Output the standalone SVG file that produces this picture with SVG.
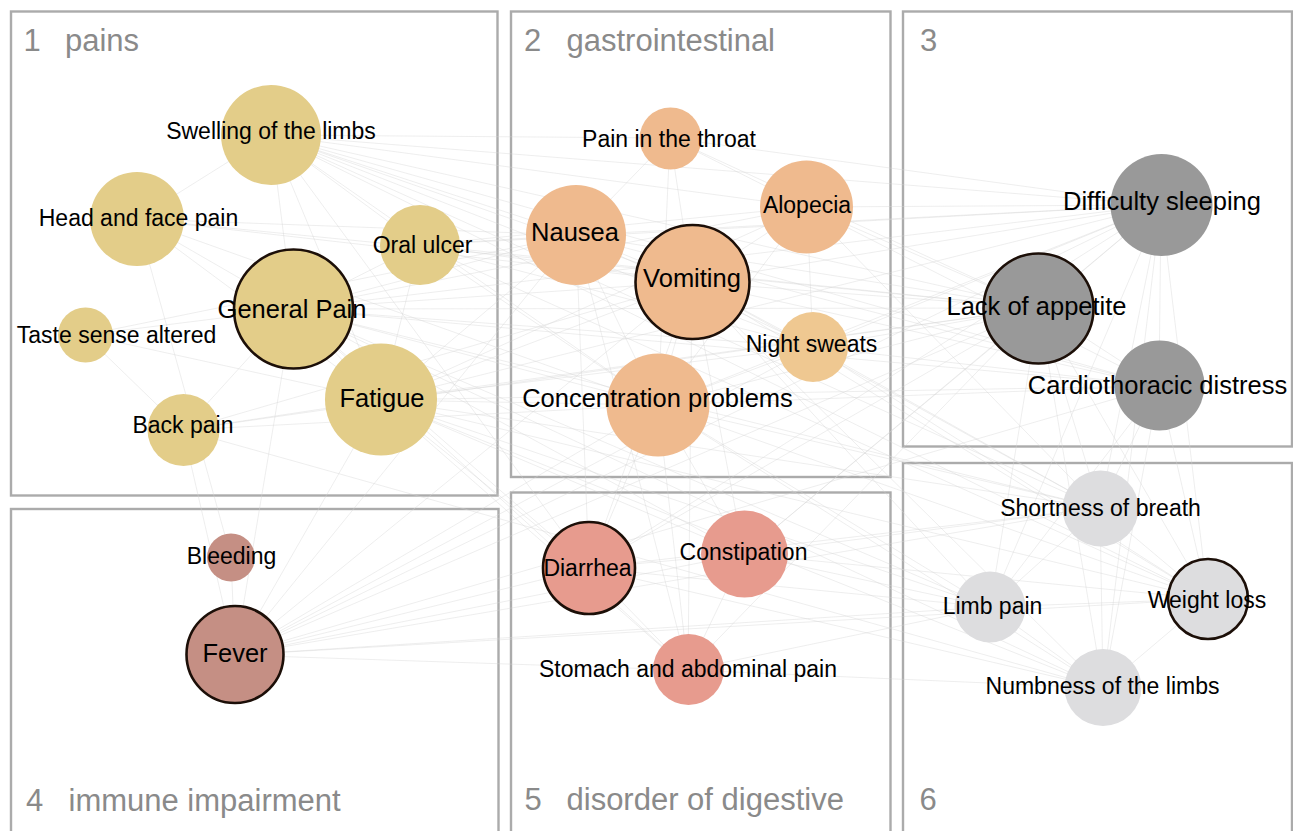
<svg xmlns="http://www.w3.org/2000/svg" width="1293" height="831" viewBox="0 0 1293 831">
<style>
.panel{fill:none;stroke:#ababab;stroke-width:2.4}
.plab{font-family:"Liberation Sans",Arial,sans-serif;font-size:31px;fill:#8a8a8a}
.e{stroke:#d6d6d6;stroke-width:0.9;stroke-opacity:0.45}
.lab{font-family:"Liberation Sans",Arial,sans-serif;font-size:23px;fill:#000;text-anchor:middle}
.big{font-size:25.5px}
.hub{stroke:#1c0f08;stroke-width:2.6}
.c1{fill:#E3CD89}.c2{fill:#EFBA8E}.c2b{fill:#EFC891}.c3{fill:#999999}.c4{fill:#C58F84}.c5{fill:#E79B8E}.c6{fill:#DDDDDF}
</style>
<rect width="1293" height="831" fill="#fff"/>
<g id="panels">
<rect class="panel" x="11" y="11.5" width="486.5" height="484"/>
<rect class="panel" x="511" y="11.5" width="379.5" height="465.5"/>
<rect class="panel" x="903" y="11.5" width="389" height="435"/>
<rect class="panel" x="11" y="509" width="487.5" height="340"/>
<rect class="panel" x="511" y="492.5" width="379.5" height="360"/>
<rect class="panel" x="903" y="463" width="389" height="380"/>
<text class="plab" x="23.5" y="50.5">1<tspan x="65">pains</tspan></text>
<text class="plab" x="524" y="50.5">2<tspan x="566.5">gastrointestinal</tspan></text>
<text class="plab" x="920" y="50.5">3</text>
<text class="plab" x="26" y="811">4<tspan x="68.5">immune impairment</tspan></text>
<text class="plab" x="524.5" y="810">5<tspan x="566.5">disorder of digestive</tspan></text>
<text class="plab" x="919.5" y="810">6</text>
</g>
<g id="connectors">
<line class="e" x1="271" y1="135" x2="137" y2="219"/><line class="e" x1="271" y1="135" x2="293" y2="309"/><line class="e" x1="271" y1="135" x2="420" y2="245"/><line class="e" x1="271" y1="135" x2="381" y2="400"/><line class="e" x1="271" y1="135" x2="670" y2="138"/><line class="e" x1="271" y1="135" x2="576" y2="235"/><line class="e" x1="271" y1="135" x2="692" y2="282"/><line class="e" x1="271" y1="135" x2="807" y2="207"/><line class="e" x1="271" y1="135" x2="813" y2="347"/><line class="e" x1="271" y1="135" x2="658" y2="405"/><line class="e" x1="271" y1="135" x2="1161" y2="205"/><line class="e" x1="271" y1="135" x2="1039" y2="308"/><line class="e" x1="271" y1="135" x2="1159" y2="386"/><line class="e" x1="271" y1="135" x2="1100" y2="508"/><line class="e" x1="271" y1="135" x2="1208" y2="599"/><line class="e" x1="271" y1="135" x2="589" y2="568"/>
<line class="e" x1="137" y1="219" x2="293" y2="309"/><line class="e" x1="137" y1="219" x2="231" y2="557"/><line class="e" x1="137" y1="219" x2="692" y2="282"/><line class="e" x1="137" y1="219" x2="576" y2="235"/><line class="e" x1="137" y1="219" x2="381" y2="400"/><line class="e" x1="137" y1="219" x2="1039" y2="308"/><line class="e" x1="137" y1="219" x2="658" y2="405"/>
<line class="e" x1="420" y1="245" x2="293" y2="309"/><line class="e" x1="420" y1="245" x2="381" y2="400"/><line class="e" x1="420" y1="245" x2="576" y2="235"/><line class="e" x1="420" y1="245" x2="692" y2="282"/><line class="e" x1="420" y1="245" x2="807" y2="207"/><line class="e" x1="420" y1="245" x2="1039" y2="308"/><line class="e" x1="420" y1="245" x2="1161" y2="205"/><line class="e" x1="420" y1="245" x2="658" y2="405"/><line class="e" x1="420" y1="245" x2="813" y2="347"/><line class="e" x1="420" y1="245" x2="1208" y2="599"/>
<line class="e" x1="293" y1="309" x2="85" y2="335"/><line class="e" x1="293" y1="309" x2="381" y2="400"/><line class="e" x1="293" y1="309" x2="183" y2="430"/><line class="e" x1="293" y1="309" x2="576" y2="235"/><line class="e" x1="293" y1="309" x2="692" y2="282"/><line class="e" x1="293" y1="309" x2="807" y2="207"/><line class="e" x1="293" y1="309" x2="658" y2="405"/><line class="e" x1="293" y1="309" x2="1039" y2="308"/><line class="e" x1="293" y1="309" x2="1161" y2="205"/><line class="e" x1="293" y1="309" x2="1159" y2="386"/><line class="e" x1="293" y1="309" x2="235" y2="655"/><line class="e" x1="293" y1="309" x2="589" y2="568"/><line class="e" x1="293" y1="309" x2="744" y2="554"/><line class="e" x1="293" y1="309" x2="688" y2="670"/><line class="e" x1="293" y1="309" x2="1100" y2="508"/><line class="e" x1="293" y1="309" x2="990" y2="607"/><line class="e" x1="293" y1="309" x2="1103" y2="688"/><line class="e" x1="293" y1="309" x2="813" y2="347"/>
<line class="e" x1="85" y1="335" x2="381" y2="400"/><line class="e" x1="85" y1="335" x2="183" y2="430"/><line class="e" x1="85" y1="335" x2="576" y2="235"/>
<line class="e" x1="381" y1="400" x2="183" y2="430"/><line class="e" x1="381" y1="400" x2="692" y2="282"/><line class="e" x1="381" y1="400" x2="576" y2="235"/><line class="e" x1="381" y1="400" x2="658" y2="405"/><line class="e" x1="381" y1="400" x2="813" y2="347"/><line class="e" x1="381" y1="400" x2="1039" y2="308"/><line class="e" x1="381" y1="400" x2="1161" y2="205"/><line class="e" x1="381" y1="400" x2="1159" y2="386"/><line class="e" x1="381" y1="400" x2="589" y2="568"/><line class="e" x1="381" y1="400" x2="744" y2="554"/><line class="e" x1="381" y1="400" x2="688" y2="670"/><line class="e" x1="381" y1="400" x2="1100" y2="508"/><line class="e" x1="381" y1="400" x2="1208" y2="599"/><line class="e" x1="381" y1="400" x2="990" y2="607"/><line class="e" x1="381" y1="400" x2="1103" y2="688"/><line class="e" x1="381" y1="400" x2="235" y2="655"/><line class="e" x1="381" y1="400" x2="807" y2="207"/>
<line class="e" x1="183" y1="430" x2="235" y2="655"/><line class="e" x1="183" y1="430" x2="1039" y2="308"/><line class="e" x1="183" y1="430" x2="658" y2="405"/><line class="e" x1="183" y1="430" x2="1103" y2="688"/><line class="e" x1="183" y1="430" x2="692" y2="282"/>
<line class="e" x1="670" y1="138" x2="576" y2="235"/><line class="e" x1="670" y1="138" x2="692" y2="282"/><line class="e" x1="670" y1="138" x2="807" y2="207"/><line class="e" x1="670" y1="138" x2="1039" y2="308"/><line class="e" x1="670" y1="138" x2="1161" y2="205"/><line class="e" x1="670" y1="138" x2="658" y2="405"/>
<line class="e" x1="807" y1="207" x2="692" y2="282"/><line class="e" x1="807" y1="207" x2="813" y2="347"/><line class="e" x1="807" y1="207" x2="1161" y2="205"/><line class="e" x1="807" y1="207" x2="1039" y2="308"/><line class="e" x1="807" y1="207" x2="1159" y2="386"/><line class="e" x1="807" y1="207" x2="658" y2="405"/><line class="e" x1="807" y1="207" x2="1100" y2="508"/>
<line class="e" x1="576" y1="235" x2="692" y2="282"/><line class="e" x1="576" y1="235" x2="658" y2="405"/><line class="e" x1="576" y1="235" x2="1039" y2="308"/><line class="e" x1="576" y1="235" x2="1161" y2="205"/><line class="e" x1="576" y1="235" x2="589" y2="568"/><line class="e" x1="576" y1="235" x2="688" y2="670"/><line class="e" x1="576" y1="235" x2="813" y2="347"/><line class="e" x1="576" y1="235" x2="1159" y2="386"/>
<line class="e" x1="692" y1="282" x2="658" y2="405"/><line class="e" x1="692" y1="282" x2="813" y2="347"/><line class="e" x1="692" y1="282" x2="1039" y2="308"/><line class="e" x1="692" y1="282" x2="1161" y2="205"/><line class="e" x1="692" y1="282" x2="1159" y2="386"/><line class="e" x1="692" y1="282" x2="589" y2="568"/><line class="e" x1="692" y1="282" x2="744" y2="554"/><line class="e" x1="692" y1="282" x2="688" y2="670"/><line class="e" x1="692" y1="282" x2="1100" y2="508"/><line class="e" x1="692" y1="282" x2="1208" y2="599"/><line class="e" x1="692" y1="282" x2="1103" y2="688"/><line class="e" x1="692" y1="282" x2="990" y2="607"/>
<line class="e" x1="813" y1="347" x2="1039" y2="308"/><line class="e" x1="813" y1="347" x2="1161" y2="205"/><line class="e" x1="813" y1="347" x2="1159" y2="386"/><line class="e" x1="813" y1="347" x2="658" y2="405"/><line class="e" x1="813" y1="347" x2="1100" y2="508"/><line class="e" x1="813" y1="347" x2="1208" y2="599"/>
<line class="e" x1="658" y1="405" x2="1039" y2="308"/><line class="e" x1="658" y1="405" x2="1161" y2="205"/><line class="e" x1="658" y1="405" x2="1159" y2="386"/><line class="e" x1="658" y1="405" x2="589" y2="568"/><line class="e" x1="658" y1="405" x2="744" y2="554"/><line class="e" x1="658" y1="405" x2="688" y2="670"/><line class="e" x1="658" y1="405" x2="1100" y2="508"/><line class="e" x1="658" y1="405" x2="990" y2="607"/><line class="e" x1="658" y1="405" x2="1103" y2="688"/><line class="e" x1="658" y1="405" x2="1208" y2="599"/>
<line class="e" x1="1161" y1="205" x2="1039" y2="308"/><line class="e" x1="1161" y1="205" x2="1159" y2="386"/><line class="e" x1="1161" y1="205" x2="1100" y2="508"/><line class="e" x1="1161" y1="205" x2="1208" y2="599"/><line class="e" x1="1161" y1="205" x2="1103" y2="688"/><line class="e" x1="1161" y1="205" x2="990" y2="607"/><line class="e" x1="1161" y1="205" x2="589" y2="568"/><line class="e" x1="1161" y1="205" x2="744" y2="554"/>
<line class="e" x1="1039" y1="308" x2="1159" y2="386"/><line class="e" x1="1039" y1="308" x2="1100" y2="508"/><line class="e" x1="1039" y1="308" x2="1208" y2="599"/><line class="e" x1="1039" y1="308" x2="990" y2="607"/><line class="e" x1="1039" y1="308" x2="1103" y2="688"/><line class="e" x1="1039" y1="308" x2="589" y2="568"/><line class="e" x1="1039" y1="308" x2="744" y2="554"/><line class="e" x1="1039" y1="308" x2="688" y2="670"/><line class="e" x1="1039" y1="308" x2="235" y2="655"/>
<line class="e" x1="1159" y1="386" x2="1100" y2="508"/><line class="e" x1="1159" y1="386" x2="1208" y2="599"/><line class="e" x1="1159" y1="386" x2="1103" y2="688"/><line class="e" x1="1159" y1="386" x2="990" y2="607"/>
<line class="e" x1="231" y1="557" x2="235" y2="655"/>
<line class="e" x1="235" y1="655" x2="692" y2="282"/><line class="e" x1="235" y1="655" x2="658" y2="405"/><line class="e" x1="235" y1="655" x2="1161" y2="205"/><line class="e" x1="235" y1="655" x2="589" y2="568"/><line class="e" x1="235" y1="655" x2="744" y2="554"/><line class="e" x1="235" y1="655" x2="688" y2="670"/><line class="e" x1="235" y1="655" x2="1100" y2="508"/><line class="e" x1="235" y1="655" x2="990" y2="607"/><line class="e" x1="235" y1="655" x2="1208" y2="599"/><line class="e" x1="235" y1="655" x2="576" y2="235"/><line class="e" x1="235" y1="655" x2="1159" y2="386"/><line class="e" x1="235" y1="655" x2="813" y2="347"/>
<line class="e" x1="589" y1="568" x2="744" y2="554"/><line class="e" x1="589" y1="568" x2="688" y2="670"/><line class="e" x1="589" y1="568" x2="1100" y2="508"/><line class="e" x1="589" y1="568" x2="990" y2="607"/><line class="e" x1="589" y1="568" x2="1103" y2="688"/>
<line class="e" x1="744" y1="554" x2="688" y2="670"/><line class="e" x1="744" y1="554" x2="1100" y2="508"/><line class="e" x1="744" y1="554" x2="1208" y2="599"/><line class="e" x1="744" y1="554" x2="990" y2="607"/>
<line class="e" x1="688" y1="670" x2="1103" y2="688"/><line class="e" x1="688" y1="670" x2="990" y2="607"/>
<line class="e" x1="1100" y1="508" x2="990" y2="607"/><line class="e" x1="1100" y1="508" x2="1208" y2="599"/><line class="e" x1="1100" y1="508" x2="1103" y2="688"/>
<line class="e" x1="990" y1="607" x2="1208" y2="599"/><line class="e" x1="990" y1="607" x2="1103" y2="688"/>
<line class="e" x1="1208" y1="599" x2="1103" y2="688"/>
</g>
<g id="n-swelling"><circle class="c1" cx="271" cy="135" r="50"/><text class="lab" x="271" y="139">Swelling of the limbs</text></g>
<g id="n-headface"><circle class="c1" cx="137" cy="219" r="47"/><text class="lab" x="138.5" y="226">Head and face pain</text></g>
<g id="n-oralulcer"><circle class="c1" cx="420" cy="245" r="40"/><text class="lab" x="422.5" y="253">Oral ulcer</text></g>
<g id="n-generalpain"><circle class="c1 hub" cx="293.5" cy="309" r="59.5"/><text class="lab big" x="292" y="318">General Pain</text></g>
<g id="n-taste"><circle class="c1" cx="85.5" cy="335" r="27.5"/><text class="lab" x="116.5" y="343">Taste sense altered</text></g>
<g id="n-fatigue"><circle class="c1" cx="381" cy="399.5" r="56"/><text class="lab big" x="382" y="407">Fatigue</text></g>
<g id="n-backpain"><circle class="c1" cx="183.5" cy="430" r="36"/><text class="lab" x="183" y="433">Back pain</text></g>
<g id="n-throat"><circle class="c2" cx="670.5" cy="138.5" r="31"/><text class="lab" x="669" y="146.5">Pain in the throat</text></g>
<g id="n-alopecia"><circle class="c2" cx="806.5" cy="207" r="46.5"/><text class="lab" x="807" y="213">Alopecia</text></g>
<g id="n-nausea"><circle class="c2" cx="576" cy="235" r="50"/><text class="lab big" x="575" y="241">Nausea</text></g>
<g id="n-vomiting"><circle class="c2 hub" cx="692.5" cy="282" r="57"/><text class="lab big" x="692" y="287">Vomiting</text></g>
<g id="n-nightsweats"><circle class="c2b" cx="813" cy="347" r="35"/><text class="lab" x="811.5" y="352">Night sweats</text></g>
<g id="n-concentration"><circle class="c2" cx="658" cy="405" r="51.5"/><text class="lab big" x="657.5" y="407">Concentration problems</text></g>
<g id="n-sleeping"><circle class="c3" cx="1161.5" cy="205" r="51"/><text class="lab big" x="1162" y="210">Difficulty sleeping</text></g>
<g id="n-appetite"><circle class="c3 hub" cx="1038.5" cy="308.5" r="55"/><text class="lab big" x="1036.5" y="315">Lack of appetite</text></g>
<g id="n-cardio"><circle class="c3" cx="1159.5" cy="385.5" r="45"/><text class="lab big" x="1157.5" y="393.5">Cardiothoracic distress</text></g>
<g id="n-bleeding"><circle class="c4" cx="231" cy="557.5" r="24"/><text class="lab" x="231.5" y="563.5">Bleeding</text></g>
<g id="n-fever"><circle class="c4 hub" cx="235" cy="654.5" r="48.5"/><text class="lab big" x="235" y="662">Fever</text></g>
<g id="n-diarrhea"><circle class="c5 hub" cx="589" cy="568" r="46"/><text class="lab" x="587.5" y="576">Diarrhea</text></g>
<g id="n-constipation"><circle class="c5" cx="744.5" cy="554" r="43.5"/><text class="lab" x="743.5" y="559.5">Constipation</text></g>
<g id="n-stomach"><circle class="c5" cx="688.5" cy="669.5" r="35.5"/><text class="lab" x="688" y="677">Stomach and abdominal pain</text></g>
<g id="n-breath"><circle class="c6" cx="1100.5" cy="508.5" r="38"/><text class="lab" x="1100.5" y="516">Shortness of breath</text></g>
<g id="n-limbpain"><circle class="c6" cx="990" cy="607" r="35.5"/><text class="lab" x="992.5" y="613.5">Limb pain</text></g>
<g id="n-weightloss"><circle class="c6 hub" cx="1208" cy="599" r="40"/><text class="lab" x="1207" y="607.5">Weight loss</text></g>
<g id="n-numbness"><circle class="c6" cx="1103" cy="687.5" r="38.5"/><text class="lab" x="1102.5" y="693.5">Numbness of the limbs</text></g>
</svg>
